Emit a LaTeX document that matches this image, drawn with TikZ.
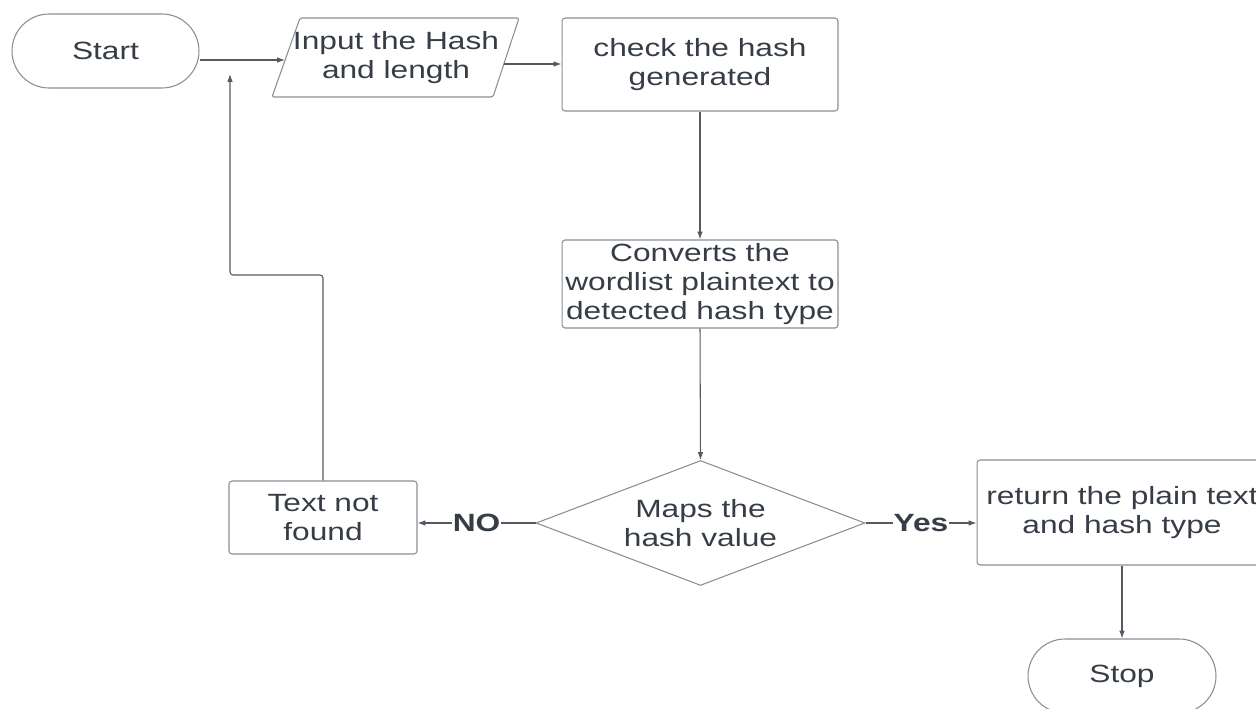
\documentclass[tikz,border=0pt]{standalone}
\usepackage{fontspec}
\setmainfont{Liberation Sans}[FakeStretch=1.27]
\usetikzlibrary{arrows.meta,shapes.geometric,calc}
\definecolor{txt}{HTML}{363D47}
\definecolor{edge}{HTML}{8A8D93}
\definecolor{conn}{HTML}{555A62}
\tikzset{
  base/.style={draw=edge, line width=0.6pt, text=txt, align=center, inner sep=0pt,
               font=\fontsize{14.2pt}{16.5pt}\selectfont},
  procbox/.style={base, rectangle, rounded corners=1.7pt},
  termbox/.style={base, rectangle, minimum width=3.74cm, minimum height=1.48cm, rounded corners=0.74cm},
  decbox/.style={base, diamond, aspect=2.632, minimum width=6.58cm, minimum height=2.5cm},
  arr/.style={draw=conn, line width=0.6pt, -{Latex[length=4.5pt,width=3.2pt]}},
  lbl/.style={fill=white, text=txt, inner sep=0.5pt, font=\fontsize{14.2pt}{16.5pt}\selectfont\bfseries}
}
\begin{document}
\begin{tikzpicture}[x=0.02cm, y=-0.02cm]
\useasboundingbox (0,0) rectangle (1256,709);

% Start
\node[termbox] (start) at (105.5,51) {Start};

% Input parallelogram
\draw[draw=edge, line width=0.6pt, rounded corners=1.2pt]
  (272,97) -- (300,18) -- (519,18) -- (493,97) -- cycle;
\node[base, draw=none, minimum width=4.4cm, minimum height=1.58cm] (input) at (396,57.5)
  {Input the Hash\\and length};
\coordinate (inL) at (285,60);
\coordinate (inR) at (504,64);

% Process boxes
\node[procbox, minimum width=5.52cm, minimum height=1.86cm] (check) at (700,64.5)
  {check the hash\\generated};
\node[procbox, minimum width=5.52cm, minimum height=1.76cm] (convert) at (700,284)
  {Converts the\\wordlist plaintext to\\detected hash type};
\node[decbox] (maps) at (700.5,523) {Maps the\\hash value};
\node[procbox, minimum width=3.76cm, minimum height=1.46cm] (notfound) at (323,517.5)
  {Text not\\found};
\node[procbox, minimum width=5.8cm, minimum height=2.1cm] (ret) at (1122,512.5)
  {return the plain text\\and hash type};
\node[termbox, minimum width=3.76cm] (stop) at (1122,676) {Stop};

% Connectors
\draw[arr] (start.east |- inL) -- (inL);
\draw[arr] (inR) -- (check.west |- inR);
\draw[arr] (check.south) -- (convert.north);
\draw[arr] (convert.south) -- (maps.north);
\draw[arr] (maps.west) -- node[lbl] {NO} (notfound.east |- maps.west);
\draw[arr] (maps.east) -- node[lbl] {Yes} (ret.west |- maps.east);
\draw[arr] (ret.south) -- (stop.north);

\coordinate (loopA) at (323,275);
\coordinate (loopB) at (230,275);
\coordinate (loopEnd) at (230,74);
\draw[arr, rounded corners=1.7pt] (notfound.north) -- (loopA) -- (loopB) -- (loopEnd);
\end{tikzpicture}
\end{document}
